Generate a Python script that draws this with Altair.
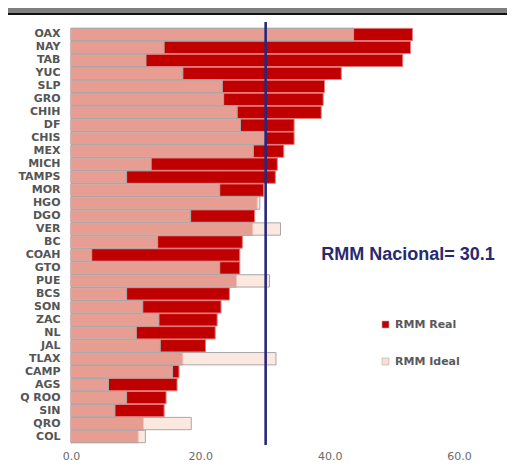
import altair as alt
import pandas as pd

states = ["OAX", "NAY", "TAB", "YUC", "SLP", "GRO", "CHIH", "DF", "CHIS", "MEX",
          "MICH", "TAMPS", "MOR", "HGO", "DGO", "VER", "BC", "COAH", "GTO", "PUE",
          "BCS", "SON", "ZAC", "NL", "JAL", "TLAX", "CAMP", "AGS", "Q ROO", "SIN",
          "QRO", "COL"]
rmm_real = [52.8, 52.5, 51.3, 41.8, 39.2, 39.0, 38.7, 34.5, 34.5, 32.9,
            31.9, 31.6, 29.8, 28.8, 28.4, 28.1, 26.5, 26.1, 26.1, 25.6,
            24.5, 23.2, 22.6, 22.3, 20.8, 17.3, 16.7, 16.4, 14.7, 14.4,
            11.2, 10.4]
rmm_ideal = [43.7, 14.4, 11.6, 17.3, 23.4, 23.6, 25.7, 26.2, 30.0, 28.2,
             12.4, 8.6, 23.0, 29.2, 18.5, 32.4, 13.4, 3.2, 23.0, 30.7,
             8.6, 11.1, 13.6, 10.1, 13.8, 31.7, 15.7, 5.8, 8.6, 6.8,
             18.6, 11.5]
series_names = ["RMM Real", "RMM Ideal"]
series_colors = ["#c00000", "#fadfd2"]
national = [30.1]
x_ticks = [0, 20, 40, 60]

rows = []
for s, r, i in zip(states, rmm_real, rmm_ideal):
    rows.append({"state": s, "series": series_names[0], "value": r})
    rows.append({"state": s, "series": series_names[1], "value": i})
df = pd.DataFrame(rows)

W = 388
H = 415

y_enc = alt.Y("state:N", sort=states, title=None,
              scale=alt.Scale(paddingInner=0.05, paddingOuter=0.025),
              axis=alt.Axis(domain=True, domainColor="#b8b8b8", domainWidth=1,
                            ticks=False, tickSize=0, labelPadding=11,
                            labelFont="DejaVu Sans", labelFontWeight="bold",
                            labelFontSize=11, labelColor="#555555", grid=False))
x_enc = alt.X("value:Q", title=None,
              scale=alt.Scale(domain=[0, 60], nice=False),
              axis=alt.Axis(values=x_ticks, format=".1f", domain=False, ticks=False,
                            tickSize=0, grid=False, labelPadding=7, labelFlush=False,
                            labelFont="DejaVu Sans", labelFontSize=11,
                            labelColor="#6a6a6a"))
color_enc = alt.Color("series:N", title=None,
                      scale=alt.Scale(domain=series_names, range=series_colors),
                      legend=alt.Legend(orient="none", legendX=309, legendY=291,
                                        direction="vertical", symbolType="square",
                                        symbolSize=49, symbolOpacity=1,
                                        symbolStrokeColor="#b0b0b0", symbolStrokeWidth=0.6,
                                        labelFont="DejaVu Sans", labelFontWeight="bold",
                                        labelFontSize=11, labelColor="#595959",
                                        rowPadding=25, padding=0, labelOffset=4))

base = alt.Chart(df)
real_bars = base.transform_filter(alt.datum.series == series_names[0]).mark_bar(
    stroke="#e27c7c", strokeWidth=1).encode(x=x_enc, y=y_enc, color=color_enc)
ideal_bars = base.transform_filter(alt.datum.series == series_names[1]).mark_bar(
    fillOpacity=0.7, stroke="#a8a8a8", strokeWidth=1).encode(x=x_enc, y=y_enc, color=color_enc)

nat_df = pd.DataFrame({"value": national})
nat_rule = alt.Chart(nat_df).mark_rule(color="#27287a", strokeWidth=2.6).encode(
    x=alt.X("value:Q", scale=alt.Scale(domain=[0, 60], nice=False)),
    y=alt.value(-6), y2=alt.value(H + 2))

nat_text = alt.Chart(pd.DataFrame({"label": ["RMM Nacional= 30.1"]})).mark_text(
    font="Liberation Sans", fontWeight="bold", fontSize=18, color="#272a6e",
    align="center", baseline="middle").encode(
    text="label:N", x=alt.value(337), y=alt.value(227))

one = alt.Data(values=[{"a": 1}])
top_band = alt.Chart(one).mark_rect(color="#808080").encode(
    x=alt.value(-63), x2=alt.value(W + 48), y=alt.value(-20), y2=alt.value(-15))
top_line = alt.Chart(one).mark_rect(color="#111111").encode(
    x=alt.value(-63), x2=alt.value(W + 48), y=alt.value(-15), y2=alt.value(-13))

chart = alt.layer(top_band, top_line, real_bars, ideal_bars, nat_rule, nat_text).properties(
    width=W, height=H,
    background="white",
    autosize=alt.AutoSizeParams(type="none"),
    padding={"left": 63, "top": 20, "right": 48, "bottom": 22},
).configure_view(stroke=None)

chart.save("out.html", embed_options={"renderer": "svg", "actions": False})
